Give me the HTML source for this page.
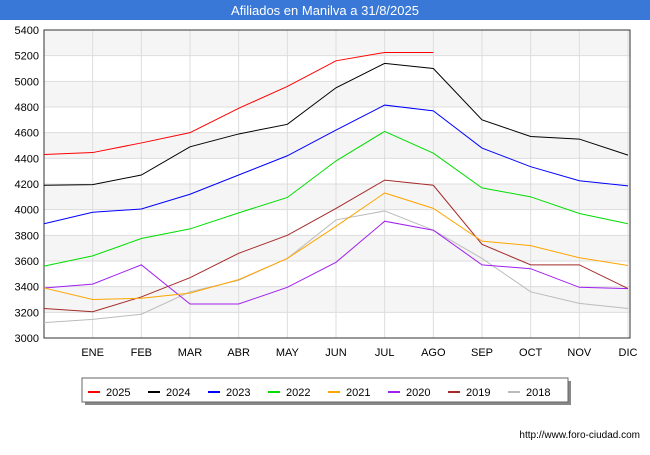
<!DOCTYPE html>
<html><head><meta charset="utf-8">
<style>
body{margin:0;width:650px;height:450px;background:#fff;font-family:"Liberation Sans",sans-serif;overflow:hidden}
</style></head>
<body>
<svg width="650" height="450">
<rect x="0" y="0" width="650" height="20" fill="#3a78d8"/>
<text x="325" y="15" fill="#fff" font-size="13" text-anchor="middle">Afiliados en Manilva a 31/8/2025</text>
<g id="grid"></g>
<g id="axes"></g>
<g id="series"></g>
<g id="legend"></g>
<text x="640" y="438" font-size="10" text-anchor="end" fill="#000">http://www.foro-ciudad.com</text>
</svg>
<script>
const months=["","ENE","FEB","MAR","ABR","MAY","JUN","JUL","AGO","SEP","OCT","NOV","DIC"];
const yTicks=[3000,3200,3400,3600,3800,4000,4200,4400,4600,4800,5000,5200,5400];
const years=["2025","2024","2023","2022","2021","2020","2019","2018"];
const colors=["#ff0000","#000000","#0000ff","#00dd00","#ffa500","#a020f0","#a52a2a","#bbbbbb"];
const s2025=[4430,4445,4520,4600,4790,4960,5160,5225,5225];
const s2024=[4190,4195,4270,4490,4590,4665,4950,5140,5100,4700,4570,4550,4425];
const s2023=[3890,3980,4005,4120,4270,4420,4620,4815,4770,4480,4335,4225,4185];
const s2022=[3560,3640,3775,3850,3975,4095,4380,4610,4440,4170,4100,3970,3890];
const s2021=[3390,3300,3310,3350,3455,3620,3870,4130,4010,3755,3720,3625,3565];
const s2020=[3390,3420,3570,3265,3265,3395,3590,3910,3840,3570,3540,3395,3385];
const s2019=[3230,3205,3320,3470,3660,3800,4010,4230,4190,3730,3570,3570,3385];
const s2018=[3120,3145,3185,3360,3450,3620,3920,3990,3840,3620,3360,3270,3230];
const series=[s2025,s2024,s2023,s2022,s2021,s2020,s2019,s2018];
const NS="http://www.w3.org/2000/svg";
const L=44,R=630,T=30,B=338,yMin=3000,yMax=5400;
const x=i=>L+i*(R-2-L)/12;
const y=v=>B-(v-yMin)*(B-T)/(yMax-yMin);
function mk(tag,attrs,parent){const e=document.createElementNS(NS,tag);for(const k in attrs)e.setAttribute(k,attrs[k]);parent.appendChild(e);return e;}
const grid=document.getElementById('grid'),axes=document.getElementById('axes'),ser=document.getElementById('series'),leg=document.getElementById('legend');
for(let i=0;i<yTicks.length-1;i++){
  if(i%2==1){const r=mk('rect',{x:L,y:y(yTicks[i+1]),width:R-L,height:y(yTicks[i])-y(yTicks[i+1]),fill:'#f5f5f5'},grid);
  
  }
}
yTicks.forEach(v=>{
  const l=mk('line',{x1:L,x2:R,y1:y(v),y2:y(v),stroke:'#ddd','stroke-width':1},grid);
  
  
  const t=mk('text',{x:L-5,y:y(v)+4,'font-size':11,'text-anchor':'end',fill:'#000'},axes);t.textContent=v;
  
  
});
months.forEach((m,i)=>{
  if(i>0){const l=mk('line',{x1:x(i),x2:x(i),y1:T,y2:B,stroke:'#ddd','stroke-width':1},grid);
  
  }
  const t=mk('text',{x:x(i),y:B+18,'font-size':11,'text-anchor':'middle',fill:'#000'},axes);t.textContent=m;
  
  
});
const fr=mk('rect',{x:L,y:T,width:R-L,height:B-T,fill:'none',stroke:'#333','stroke-width':1},axes);


for(let k=series.length-1;k>=0;k--){
  const p=mk('polyline',{points:series[k].map((v,i)=>x(i)+','+y(v)).join(' '),fill:'none',stroke:colors[k],'stroke-width':1},ser);
  
  
}
const sh=mk('rect',{x:85,y:381,width:486,height:24,fill:'#888'},leg);


const lb=mk('rect',{x:82,y:378,width:486,height:24,fill:'#fff',stroke:'#666'},leg);


years.forEach((yr,k)=>{
  const bx=88+k*60;
  const g=mk('g',{},leg);
  
  
  mk('line',{x1:bx,x2:bx+12,y1:392,y2:392,stroke:colors[k],'stroke-width':2},g);
  const t=mk('text',{x:bx+18,y:396,'font-size':11,fill:'#000'},g);t.textContent=yr;
});
</script>
</body></html>
